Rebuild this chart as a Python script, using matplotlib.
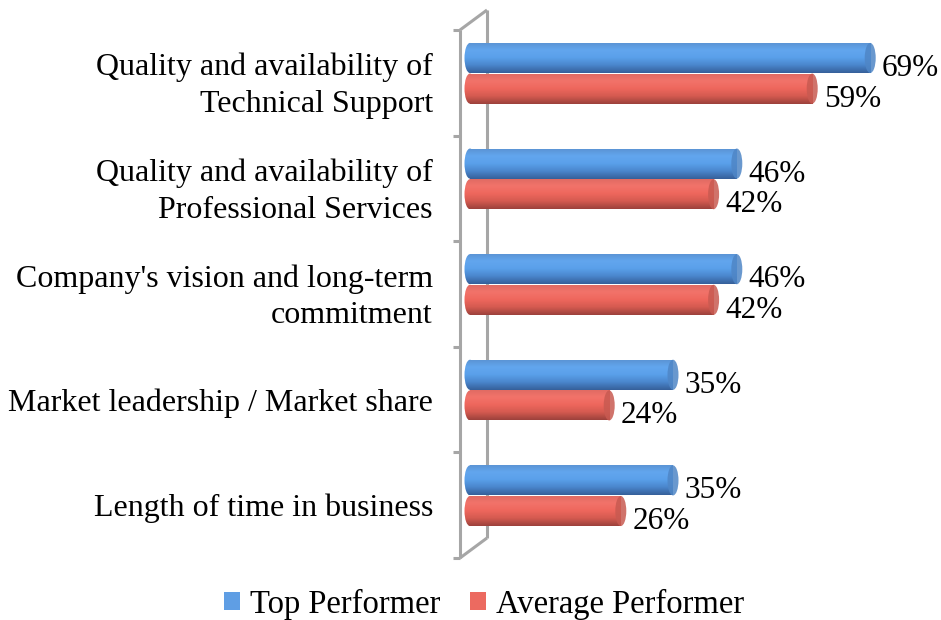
import numpy as np
import matplotlib.pyplot as plt
from matplotlib.patches import Ellipse, Patch
from matplotlib.colors import LinearSegmentedColormap

categories = ["Quality and availability of\nTechnical Support",
              "Quality and availability of\nProfessional Services",
              "Company's vision and long-term\ncommitment",
              "Market leadership / Market share",
              "Length of time in business"]
top_performer = [69, 46, 46, 35, 35]
avg_performer = [59, 42, 42, 24, 26]
series_names = ["Top Performer", "Average Performer"]

plt.rcParams['font.family'] = ['Liberation Serif', 'DejaVu Serif']

blue_cmap = LinearSegmentedColormap.from_list(
    "blue", ["#5a92d2", "#62a6ee", "#5aa0ea", "#4a86cc", "#36609a"])
red_cmap = LinearSegmentedColormap.from_list(
    "red", ["#de6a62", "#f2736a", "#ee675d", "#d45a50", "#9c423c"])
cap_colors = ["#4f86c6", "#c85a51"]

fig = plt.figure(figsize=(9.41, 6.20), dpi=100)
px_per_unit = 5.8
ax_left, ax_right, ax_top, ax_bottom = 460, 941, 30, 558
ax = fig.add_axes([ax_left / 941, 1 - ax_bottom / 620,
                   (ax_right - ax_left) / 941, (ax_bottom - ax_top) / 620])
x0 = -(470 - ax_left) / px_per_unit
x1 = x0 + (ax_right - ax_left) / px_per_unit
n = len(categories)
ax.set_xlim(x0, x1)
ax.set_ylim(n - 0.5, -0.5)
ax.axis('off')

# 3D-looking wall on the left
cat_px = (ax_bottom - ax_top) / n
dx = (487 - 460) / px_per_unit
dy = 20 / cat_px
wall = dict(color="#a6a6a6", lw=2.2, clip_on=False, solid_capstyle='butt')
ax.plot([x0, x0], [-0.5, n - 0.5], **wall)
ax.plot([x0 + dx, x0 + dx], [-0.5 - dy, n - 0.5 - dy], **wall)
ax.plot([x0, x0 + dx], [-0.5, -0.5 - dy], **wall)
ax.plot([x0, x0 + dx], [n - 0.5, n - 0.5 - dy], **wall)
for k in range(n + 1):
    ax.plot([x0 - 7 / px_per_unit, x0], [k - 0.5, k - 0.5], **wall)

h = 0.285
offsets = [-0.235, 0.055]
cap_w = 11 / px_per_unit
grad = np.linspace(0, 1, 64).reshape(-1, 1)


def gradient_fill(patch, cmap, extent):
    im = ax.imshow(grad, cmap=cmap, aspect='auto', extent=extent,
                   zorder=patch.get_zorder(), interpolation='bilinear')
    im.set_clip_path(patch)


y = np.arange(n)
for vals, off, cmap, cap in zip([top_performer, avg_performer], offsets,
                                [blue_cmap, red_cmap], cap_colors):
    yc = y + off
    # rounded left end
    for yy in yc:
        e = Ellipse((0, yy), cap_w, h, facecolor='none', edgecolor='none', zorder=2)
        ax.add_patch(e)
        gradient_fill(e, cmap, (-cap_w, cap_w, yy + h / 2, yy - h / 2))
    bars = ax.barh(yc, vals, height=h, color='none', zorder=3)
    for b, v, yy in zip(bars, vals, yc):
        gradient_fill(b, cmap, (0, v, yy + h / 2, yy - h / 2))
        ax.add_patch(Ellipse((v, yy), cap_w, h, facecolor=cap, edgecolor='none',
                             alpha=0.85, zorder=4))
        ax.text(v + cap_w / 2 + 6 / px_per_unit, yy + 0.1, f"{v}%",
                ha='left', va='center', fontsize=22.5, zorder=5)

ax.set_xlim(x0, x1)
ax.set_ylim(n - 0.5, -0.5)

label_x = x0 - (ax_left - 433) / px_per_unit
for i, c in enumerate(categories):
    ax.text(label_x, i + 0.03, c, ha='right', va='center', fontsize=23,
            linespacing=1.35, clip_on=False)

handles = [Patch(facecolor="#5f9ee4", edgecolor='none'),
           Patch(facecolor="#ec6a60", edgecolor='none')]
fig.legend(handles, series_names, loc='center', bbox_to_anchor=(484 / 941, 1 - 604 / 620),
           ncol=2, frameon=False, fontsize=23.5, handlelength=0.5, handleheight=0.5,
           handletextpad=0.3, columnspacing=0.9)

fig.savefig("out.png", dpi=100)
